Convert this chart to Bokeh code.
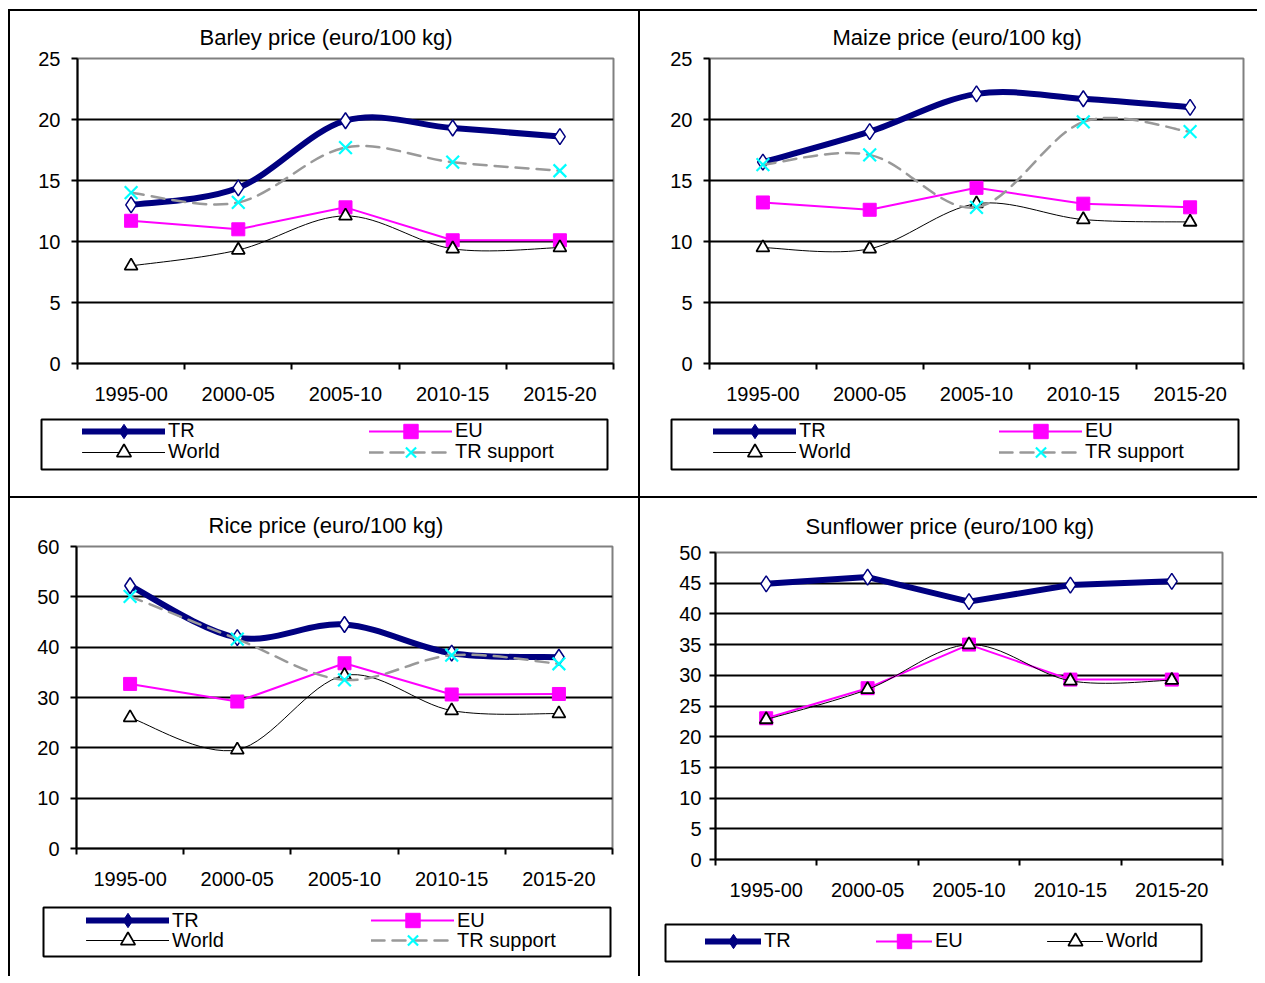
from bokeh.plotting import figure
from bokeh.models import Range1d, FixedTicker, Legend, LegendItem, Div
from bokeh.layouts import row, column
from bokeh.embed import file_html
from bokeh.resources import INLINE

# ---------------- data ----------------
periods = ["1995-00", "2000-05", "2005-10", "2010-15", "2015-20"]

barley_tr = [13.0, 14.4, 19.9, 19.3, 18.6]
barley_eu = [11.7, 11.0, 12.8, 10.1, 10.1]
barley_world = [8.0, 9.3, 12.1, 9.4, 9.5]
barley_support = [14.0, 13.2, 17.7, 16.5, 15.8]

maize_tr = [16.5, 19.0, 22.1, 21.7, 21.0]
maize_eu = [13.2, 12.6, 14.4, 13.1, 12.8]
maize_world = [9.5, 9.4, 13.1, 11.8, 11.6]
maize_support = [16.3, 17.1, 12.8, 19.8, 19.0]

rice_tr = [52.2, 41.9, 44.5, 38.8, 38.0]
rice_eu = [32.7, 29.2, 36.8, 30.6, 30.7]
rice_world = [26.0, 19.6, 34.4, 27.4, 26.8]
rice_support = [50.1, 41.6, 33.5, 38.4, 36.7]

sun_tr = [44.9, 46.0, 42.0, 44.7, 45.3]
sun_eu = [23.0, 27.9, 35.0, 29.3, 29.3]
sun_world = [22.8, 27.7, 35.0, 29.1, 29.2]

titles = ["Barley price (euro/100 kg)", "Maize price (euro/100 kg)",
          "Rice price (euro/100 kg)", "Sunflower price (euro/100 kg)"]

# ---------------- styles ----------------
FONT = "Liberation Sans"
NAVY = "#000080"
MAGENTA = "#FF00FF"
CYAN = "#00FFFF"
GREY = "#999999"

STYLE = {
    "TR": dict(line=dict(line_color=NAVY, line_width=6), smooth=True,
               marker=dict(marker="diamond", size=16, fill_color="white", line_color=NAVY, line_width=1.5),
               lmarker=dict(marker="diamond", fill_color=NAVY, line_color=NAVY, line_width=1)),
    "EU": dict(line=dict(line_color=MAGENTA, line_width=2), smooth=False,
               marker=dict(marker="square", size=13, fill_color=MAGENTA, line_color=MAGENTA, line_width=1),
               lmarker=dict(marker="square", fill_color=MAGENTA, line_color=MAGENTA, line_width=1)),
    "World": dict(line=dict(line_color="black", line_width=1), smooth=True,
                  marker=dict(marker="triangle", size=13, fill_color="white", line_color="black", line_width=1.8),
                  lmarker=dict(marker="triangle", fill_color="white", line_color="black", line_width=1.8)),
    "TR support": dict(line=dict(line_color=GREY, line_width=2.5, line_dash="13 8"), smooth=True,
                       marker=dict(marker="x", size=18, line_color=CYAN, line_width=2.2),
                       lmarker=dict(marker="x", line_color=CYAN, line_width=2.2)),
}


def smooth(xs, ys):
    n = len(xs)
    d = dict(x0=[], y0=[], x1=[], y1=[], cx0=[], cy0=[], cx1=[], cy1=[])
    for i in range(n - 1):
        ip = max(i - 1, 0)
        inx = min(i + 2, n - 1)
        d["x0"].append(xs[i]); d["y0"].append(ys[i])
        d["x1"].append(xs[i + 1]); d["y1"].append(ys[i + 1])
        d["cx0"].append(xs[i] + (xs[i + 1] - xs[ip]) / 6.0)
        d["cy0"].append(ys[i] + (ys[i + 1] - ys[ip]) / 6.0)
        d["cx1"].append(xs[i + 1] - (xs[inx] - xs[i]) / 6.0)
        d["cy1"].append(ys[i + 1] - (ys[inx] - ys[i]) / 6.0)
    return d


def make_chart(title, data, smooth_flags, ymax, ystep, w, h, ml, mr, mt, mb,
               title_offset, title_standoff, ylab_standoff):
    p = figure(width=w, height=h, x_range=Range1d(-0.5, len(periods) - 0.5),
               y_range=Range1d(0, ymax), output_backend="svg", toolbar_location=None,
               min_border_left=ml, min_border_right=mr, min_border_top=mt, min_border_bottom=mb,
               title=title)
    p.background_fill_color = "white"
    p.border_fill_color = "white"
    p.outline_line_color = "#808080"
    p.outline_line_width = 2

    p.title.align = "left"
    p.title.offset = title_offset
    p.title.text_font = FONT
    p.title.text_font_size = "22px"
    p.title.text_font_style = "normal"
    p.title.text_color = "black"
    p.title.standoff = title_standoff

    xs = list(range(len(periods)))
    xa = p.xaxis[0]
    xa.ticker = FixedTicker(ticks=xs, minor_ticks=[x - 0.5 for x in xs] + [xs[-1] + 0.5])
    xa.major_label_overrides = {i: lab for i, lab in enumerate(periods)}
    xa.major_tick_line_color = None
    xa.minor_tick_line_color = "black"
    xa.minor_tick_line_width = 2
    xa.minor_tick_out = 6
    xa.minor_tick_in = 0
    xa.major_label_standoff = 17
    xa.axis_line_color = "black"
    xa.axis_line_width = 2

    ya = p.yaxis[0]
    yticks = list(range(0, ymax + 1, ystep))
    ya.ticker = FixedTicker(ticks=yticks)
    ya.major_tick_out = 6
    ya.major_tick_in = 0
    ya.major_tick_line_width = 2
    ya.minor_tick_line_color = None
    ya.major_label_standoff = ylab_standoff
    ya.axis_line_color = "black"
    ya.axis_line_width = 2

    for ax in (xa, ya):
        ax.major_label_text_font = FONT
        ax.major_label_text_font_size = "20px"
        ax.major_label_text_color = "black"

    p.xgrid.visible = False
    p.ygrid[0].ticker = FixedTicker(ticks=yticks[1:-1])
    p.ygrid.grid_line_color = "black"
    p.ygrid.grid_line_width = 2

    for name, ys in data.items():
        st = STYLE[name]
        if smooth_flags.get(name, st["smooth"]):
            p.bezier(line_cap="round", **smooth(xs, ys), **st["line"])
        else:
            p.line(xs, ys, line_join="round", line_cap="round", **st["line"])
        p.scatter(xs, ys, **st["marker"])
    return p


def make_legend(data, rows_spec, w, h, ml, mr, mt, mb, glyph_width, label_width, spacing):
    # legend-only figure: its frame is the legend box; the series are drawn
    # outside the visible range so only the legend samples show.
    q = figure(width=w, height=h, x_range=Range1d(1000, 1001), y_range=Range1d(1000, 1001),
               x_axis_type=None, y_axis_type=None, output_backend="svg", toolbar_location=None,
               min_border_left=ml, min_border_right=mr, min_border_top=mt, min_border_bottom=mb)
    q.background_fill_color = "white"
    q.border_fill_color = "white"
    q.outline_line_color = "black"
    q.outline_line_width = 2
    q.xgrid.visible = False
    q.ygrid.visible = False
    xs = list(range(len(periods)))
    for (vx, vy, names) in rows_spec:
        items = []
        for n in names:
            st = STYLE[n]
            l_line = q.line(xs, data[n], line_cap="round", **st["line"])
            l_mark = q.scatter(xs, data[n], **st["lmarker"])
            items.append(LegendItem(label=n, renderers=[l_line, l_mark]))
        leg = Legend(items=items, location=(vx, vy), orientation="horizontal",
                     padding=0, margin=0, spacing=spacing, glyph_width=glyph_width, glyph_height=36,
                     label_height=36, label_standoff=3, label_width=label_width)
        leg.label_text_font = FONT
        leg.label_text_font_size = "20px"
        leg.label_text_color = "black"
        leg.border_line_color = None
        leg.background_fill_alpha = 0
        q.add_layout(leg)
    return q


barley = {"TR": barley_tr, "EU": barley_eu, "World": barley_world, "TR support": barley_support}
maize = {"TR": maize_tr, "EU": maize_eu, "World": maize_world, "TR support": maize_support}
rice = {"TR": rice_tr, "EU": rice_eu, "World": rice_world, "TR support": rice_support}
sunflower = {"TR": sun_tr, "EU": sun_eu, "World": sun_world}

c1 = make_chart(titles[0], barley, {}, 25, 5, 628, 400, 67, 25, 47, 48, 122, 17, 11)
l1 = make_legend(barley, [(41, 20.3, ["TR", "EU"]), (41, -0.7, ["World", "TR support"])],
                 628, 85, 31, 31, 8, 27, 83, 181, 20)

c2 = make_chart(titles[1], maize, {}, 25, 5, 617, 400, 69, 14, 47, 48, 123, 17, 11)
l2 = make_legend(maize, [(42, 20.3, ["TR", "EU"]), (42, -0.7, ["World", "TR support"])],
                 617, 85, 31, 19, 8, 27, 83, 180, 20)

c3 = make_chart(titles[2], rice, {}, 60, 10, 628, 397, 66, 26, 48, 47, 132, 17, 11)
l3 = make_legend(rice, [(43, 18, ["TR", "EU"]), (43, -2, ["World", "TR support"])],
                 628, 81, 33, 28, 12, 20, 83, 179, 20)

c4 = make_chart(titles[3], sunflower, {"TR": False}, 50, 5, 617, 407, 75, 35, 54, 46, 90, 27, 8)
l4 = make_legend(sunflower, [(40, 2.3, ["TR", "EU", "World"])],
                 617, 71, 25, 56, 19, 15, 56, 100, 12)


def block(w, h, color):
    return Div(text="", width=w, height=h, margin=0,
               styles={"background-color": color, "padding": "0px"})


grid = column(
    block(1249, 9, "white"),
    block(1249, 2, "black"),
    row(block(2, 485, "black"), column(c1, row(l1)), block(2, 485, "black"), column(c2, row(l2))),
    block(1249, 2, "black"),
    row(block(2, 478, "black"), column(c3, row(l3)), block(2, 478, "black"), column(c4, row(l4))),
)
layout = row(block(8, 976, "white"), grid)

open("out.html", "w").write(file_html(layout, INLINE))
